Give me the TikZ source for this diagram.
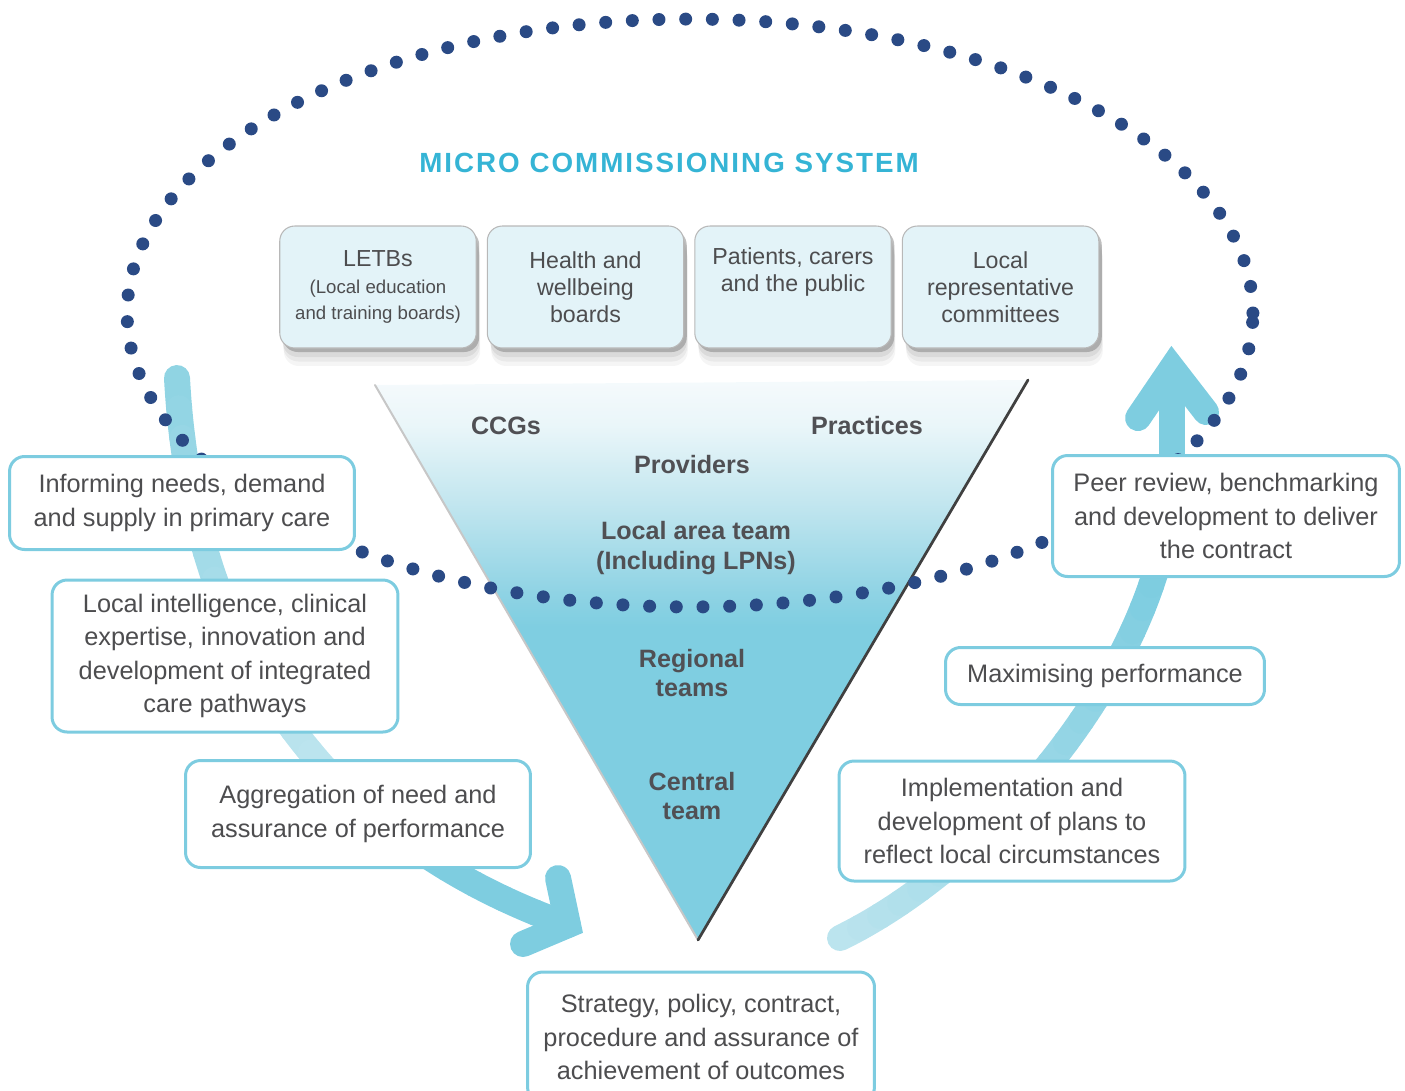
\documentclass[tikz,border=0pt]{standalone}
\usepackage{fontspec}
\setmainfont{Liberation Sans}
\usetikzlibrary{positioning,shadows}

\definecolor{boxline}{RGB}{125,204,224}
\definecolor{topfill}{RGB}{227,243,248}
\definecolor{dotblue}{RGB}{42,74,133}
\definecolor{titleblue}{RGB}{53,180,213}
\definecolor{textgray}{RGB}{77,77,79}
\definecolor{labelgray}{RGB}{80,80,84}
\definecolor{tribot}{RGB}{127,206,225}
\definecolor{trimid}{RGB}{143,211,228}
\definecolor{trilight}{RGB}{194,230,239}
\definecolor{tripale}{RGB}{234,246,249}
\definecolor{tritop}{RGB}{245,250,252}
\definecolor{arrowdark}{RGB}{126,205,224}
\definecolor{arrowmid}{RGB}{143,211,227}
\definecolor{arrowpale}{RGB}{188,228,238}

\pgfdeclareverticalshading{trishade}{100bp}{color(0bp)=(tribot); color(53bp)=(tribot);
  color(56bp)=(trimid); color(64bp)=(trilight); color(71bp)=(tripale); color(75bp)=(tritop); color(100bp)=(tritop)}

\newcommand{\subtxt}[1]{{\fontsize{10.6}{15.3}\selectfont #1}}

\begin{document}
\begin{tikzpicture}[x=0.02cm, y=-0.02cm,
  infobox/.style={draw=boxline, line width=0.06cm, fill=white, rounded corners=0.3cm, align=center,
    text=textgray, font=\fontsize{14.4}{19}\selectfont, inner sep=0pt},
  topbox/.style={fill=topfill, draw=black!28, line width=0.6pt, rounded corners=0.3cm,
    minimum width=3.93cm, minimum height=2.44cm, align=center, text=textgray,
    font=\fontsize{13.2}{15.3}\selectfont,
    drop shadow={shadow xshift=0.08cm, shadow yshift=-0.36cm, opacity=0.08},
    drop shadow={shadow xshift=0.07cm, shadow yshift=-0.27cm, opacity=0.1},
    drop shadow={shadow xshift=0.06cm, shadow yshift=-0.18cm, opacity=0.15},
    drop shadow={shadow xshift=0.06cm, shadow yshift=-0.08cm, opacity=0.5}},
  tierlabel/.style={align=center, text=labelgray, font=\bfseries\fontsize{14.3}{17}\selectfont},
  dotline/.style={draw=dotblue, line width=0.26cm, line cap=round, dash pattern=on 0pt off 0.534cm},
  arrowhead/.style={draw=arrowdark, line width=0.52cm, line cap=round, line join=miter}]
  \useasboundingbox (0,0) rectangle (1405,1090);

  % Arrows
  \coordinate (lstart) at (177,378);
  \coordinate (lend) at (568,925);
  \coordinate (lbarbup) at (558,878);
  \coordinate (lbarbdn) at (523,944);
  \foreach \i in {0,...,23} {
    \pgfmathsetmacro\ta{\i/24}
    \pgfmathsetmacro\tb{(\i+1)/24}
    \pgfmathsetmacro\tm{(\i+0.5)/24}
    \ifdim\tm pt<0.6pt
      \pgfmathtruncatemacro\p{\tm/0.6*100}
      \colorlet{segc}{arrowpale!\p!arrowmid}
    \else
      \pgfmathtruncatemacro\p{min(1,(\tm-0.6)/0.17)*100}
      \colorlet{segc}{arrowdark!\p!arrowpale}
    \fi
    \pgfsetstrokecolor{segc}
    \pgfsetlinewidth{0.52cm}
    \pgfsetroundcap
    \pgfpathcurvebetweentime{\ta}{\tb}{\pgfpointxy{177}{378}}{\pgfpointxy{190}{620}}{\pgfpointxy{300}{830}}{\pgfpointxy{568}{925}}
    \pgfusepath{stroke}
  }
  \draw[arrowhead] (lbarbup) -- (lend) -- (lbarbdn);

  \coordinate (rstart) at (840,938);
  \coordinate (rbend) at (1172,470);
  \coordinate (rend) at (1172,368);
  \coordinate (rbarbl) at (1138,418);
  \coordinate (rbarbr) at (1206,412);
  \foreach \i in {0,...,23} {
    \pgfmathsetmacro\ta{\i/24}
    \pgfmathsetmacro\tb{(\i+1)/24}
    \pgfmathtruncatemacro\p{min(1,((\i+0.5)/24)/0.8)*100}
    \colorlet{segc}{arrowdark!\p!arrowpale}
    \pgfsetstrokecolor{segc}
    \pgfsetlinewidth{0.52cm}
    \pgfsetroundcap
    \pgfpathcurvebetweentime{\ta}{\tb}{\pgfpointxy{840}{938}}{\pgfpointxy{1000}{860}}{\pgfpointxy{1172}{650}}{\pgfpointxy{1172}{470}}
    \pgfusepath{stroke}
  }
  \draw[arrowhead, line cap=butt] (rbend) -- (rend);
  \draw[arrowhead] (rbarbl) -- (rend) -- (rbarbr);

  % Triangle
  \coordinate (tl) at (375,385);
  \coordinate (tr) at (1028,380);
  \coordinate (tip) at (698,940);
  \shade[shading=trishade] (tl) -- (tr) -- (tip) -- cycle;
  \draw[black!22, line width=0.04cm] (tl) -- (tip);
  \draw[black!75, line width=0.055cm] (tr) -- (tip);

  \node[tierlabel] (ccg) at (506,426) {CCGs};
  \node[tierlabel] (prac) at (867,426) {Practices};
  \node[tierlabel] (prov) at (692,465) {Providers};
  \node[tierlabel] (lat) at (696,548) {Local area team\\(Including LPNs)};
  \node[tierlabel] (reg) at (692,673) {Regional\\teams};
  \node[tierlabel] (cen) at (692,796) {Central\\team};

  % Dotted loop
  \draw[dotline] (690,313) ellipse [x radius=11.26cm, y radius=5.88cm];

  % Title and top row
  \node[text=titleblue, font=\bfseries\fontsize{15.8}{18}\selectfont\addfontfeature{LetterSpace=7.2}] (title) at (669,163) {MICRO COMMISSIONING SYSTEM};
  \node[topbox] (letb) at (378,287) {LETBs\\\subtxt{(Local education}\\\subtxt{and training boards)}};
  \node[topbox, right=0.2cm of letb] (hwb) {Health and\\wellbeing\\boards};
  \node[topbox, right=0.2cm of hwb] (pat) {Patients, carers\\and the public\\\strut};
  \node[topbox, right=0.2cm of pat] (lrc) {Local\\representative\\committees};

  % Text boxes
  \node[infobox, minimum width=6.9cm, minimum height=1.86cm] (inform) at (182,503) {Informing needs, demand\\and supply in primary care};
  \node[infobox, minimum width=6.92cm, minimum height=3.04cm] (intel) at (225,656) {Local intelligence, clinical\\expertise, innovation and\\development of integrated\\care pathways};
  \node[infobox, minimum width=6.9cm, minimum height=2.14cm] (aggr) at (358,814) {Aggregation of need and\\assurance of performance};
  \node[infobox, minimum width=6.94cm, minimum height=2.6cm] (strat) at (701,1037) {Strategy, policy, contract,\\procedure and assurance of\\achievement of outcomes};
  \node[infobox, minimum width=6.94cm, minimum height=2.42cm] (peer) at (1226,516) {Peer review, benchmarking\\and development to deliver\\the contract};
  \node[infobox, minimum width=6.38cm, minimum height=1.14cm] (maxp) at (1105,676) {Maximising performance};
  \node[infobox, minimum width=6.92cm, minimum height=2.4cm] (impl) at (1012,821) {Implementation and\\development of plans to\\reflect local circumstances};
\end{tikzpicture}
\end{document}
